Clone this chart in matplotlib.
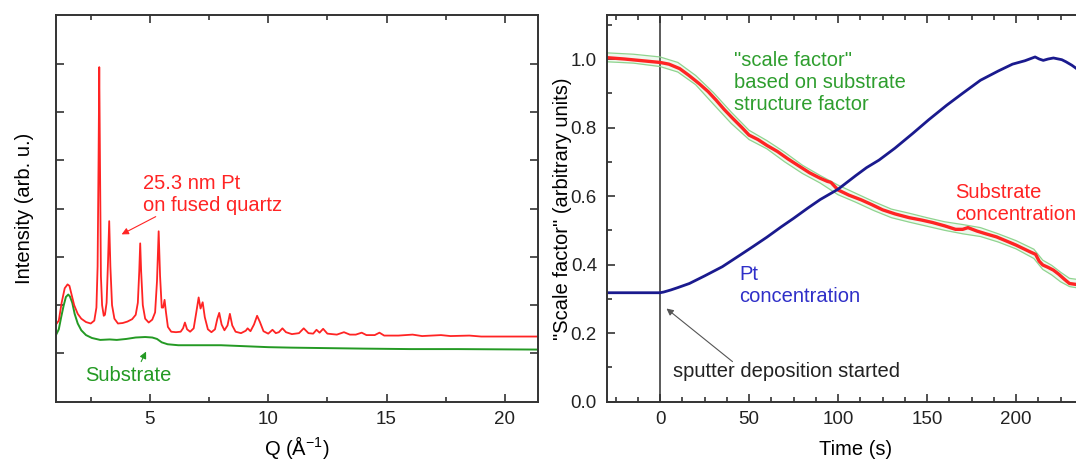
import matplotlib
matplotlib.use("Agg")
import matplotlib.pyplot as plt
from matplotlib.ticker import MultipleLocator, FormatStrFormatter

plt.rcParams['font.family'] = ['Liberation Sans', 'DejaVu Sans']
plt.rcParams['mathtext.fontset'] = 'custom'
plt.rcParams['mathtext.rm'] = 'Liberation Sans'
plt.rcParams['mathtext.default'] = 'regular'

# left panel: diffraction patterns, Q (1/A) and intensity (arb. u.)
film_q = [1.03, 1.15, 1.27, 1.40, 1.52, 1.60, 1.70, 1.80, 1.95, 2.10, 2.30, 2.50, 2.65, 2.74, 2.79,
          2.83, 2.86, 2.89, 2.93, 2.98, 3.05, 3.10, 3.17, 3.23, 3.28, 3.33, 3.40, 3.50, 3.65, 3.85,
          4.05, 4.25, 4.40, 4.49, 4.55, 4.59, 4.63, 4.70, 4.80, 4.95, 5.10, 5.22, 5.30, 5.37, 5.43,
          5.50, 5.56, 5.62, 5.68, 5.76, 5.90, 6.10, 6.30, 6.40, 6.48, 6.57, 6.70, 6.85, 6.96, 7.06,
          7.14, 7.23, 7.32, 7.45, 7.60, 7.75, 7.85, 7.93, 8.03, 8.15, 8.28, 8.38, 8.48, 8.62, 8.85,
          9.05, 9.13, 9.25, 9.40, 9.53, 9.65, 9.80, 10.0, 10.18, 10.32, 10.45, 10.60, 10.75, 11.0,
          11.3, 11.5, 11.7, 11.9, 12.04, 12.17, 12.32, 12.5, 12.9, 13.2, 13.45, 13.7, 13.95, 14.15,
          14.5, 14.7, 14.9, 15.5, 16.1, 16.5, 17.3, 17.7, 18.5, 19.0, 20.0, 21.4]
film_i = [0.60, 0.68, 1.05, 1.35, 1.43, 1.40, 1.20, 1.00, 0.82, 0.72, 0.65, 0.62, 0.68, 0.95, 1.8,
          4.0, 5.93, 4.0, 1.6, 1.0, 0.78, 0.80, 1.05, 1.9, 2.74, 1.8, 1.0, 0.72, 0.62, 0.63,
          0.66, 0.71, 0.80, 1.05, 1.7, 2.28, 1.7, 1.0, 0.72, 0.64, 0.70, 0.85, 1.5, 2.53, 1.6,
          0.95, 0.95, 1.11, 0.85, 0.55, 0.45, 0.44, 0.45, 0.52, 0.64, 0.50, 0.45, 0.52, 0.85, 1.16,
          0.93, 1.06, 0.75, 0.50, 0.44, 0.50, 0.72, 0.84, 0.60, 0.48, 0.58, 0.82, 0.58, 0.45, 0.42,
          0.47, 0.52, 0.46, 0.60, 0.78, 0.65, 0.46, 0.41, 0.49, 0.42, 0.44, 0.52, 0.44, 0.40,
          0.42, 0.52, 0.42, 0.41, 0.49, 0.43, 0.51, 0.41, 0.39, 0.44, 0.39, 0.39, 0.43, 0.38,
          0.38, 0.43, 0.37, 0.37, 0.39, 0.36, 0.38, 0.36, 0.37, 0.35, 0.35, 0.35]

subst_q = [1.03, 1.15, 1.25, 1.35, 1.45, 1.55, 1.62, 1.72, 1.82, 1.95, 2.10, 2.30, 2.55, 2.90,
           3.30, 3.60, 4.00, 4.40, 4.80, 5.10, 5.30, 5.50, 5.75, 6.20, 7.00, 8.00, 9.00, 10.0,
           11.0, 12.5, 14.0, 16.0, 18.0, 21.4]
subst_i = [0.38, 0.50, 0.75, 0.98, 1.17, 1.22, 1.18, 1.05, 0.82, 0.62, 0.48, 0.38, 0.32, 0.28,
           0.29, 0.28, 0.30, 0.33, 0.34, 0.33, 0.30, 0.23, 0.19, 0.17, 0.17, 0.17, 0.15, 0.13,
           0.12, 0.11, 0.10, 0.09, 0.09, 0.08]

# right panel: time (s) and scale factors
sub_t = [-30, -20, -10, 0, 5, 11, 16, 22, 27, 31.5, 36, 41, 46, 50, 55, 60, 66, 72, 78, 84, 90,
         94, 96, 100, 106, 113, 119, 125, 132, 140, 147, 153, 160, 166, 170, 173, 178, 183, 189,
         195, 200, 204, 208, 211, 213, 215, 218, 221, 224, 227, 230, 234, 237]
sub_v = [1.004, 1.0, 0.995, 0.99, 0.985, 0.972, 0.953, 0.928, 0.905, 0.88, 0.853, 0.826, 0.80,
         0.778, 0.765, 0.748, 0.73, 0.708, 0.688, 0.668, 0.652, 0.643, 0.64, 0.618, 0.603, 0.589,
         0.575, 0.56, 0.548, 0.537, 0.53, 0.523, 0.513, 0.503, 0.503, 0.508, 0.498, 0.49, 0.481,
         0.468, 0.457, 0.447, 0.437, 0.43, 0.41, 0.399, 0.392, 0.384, 0.372, 0.358, 0.345, 0.342,
         0.34]

sf_t = [-30, -15, 0, 10, 20, 30, 40, 50, 60, 70, 80, 90, 100, 110, 120, 130, 140, 150, 160, 170,
        180, 190, 200, 210, 215, 220, 225, 230, 237]
sf_hi = [1.018, 1.014, 1.006, 0.99, 0.952, 0.902, 0.845, 0.792, 0.762, 0.728, 0.69, 0.66, 0.632,
         0.608, 0.584, 0.562, 0.55, 0.537, 0.525, 0.517, 0.508, 0.49, 0.47, 0.445, 0.413, 0.398,
         0.378, 0.36, 0.355]
sf_lo = [0.992, 0.988, 0.978, 0.962, 0.925, 0.868, 0.812, 0.765, 0.738, 0.7, 0.666, 0.638, 0.604,
         0.582, 0.558, 0.537, 0.524, 0.512, 0.5, 0.49, 0.482, 0.466, 0.446, 0.418, 0.386, 0.37,
         0.35, 0.336, 0.33]

pt_t = [-30, -15, 0, 2, 6, 10, 16.5, 25, 35, 45, 52, 60, 68, 75, 83, 90, 100, 110, 116, 123, 132,
        142, 151, 161, 170, 180, 190, 198, 205, 210.7, 213, 215.3, 218, 221, 225.7, 228, 231.3,
        234, 237]
pt_v = [0.318, 0.318, 0.318, 0.32, 0.326, 0.333, 0.345, 0.367, 0.394, 0.428, 0.452, 0.48, 0.51,
        0.535, 0.565, 0.59, 0.62, 0.66, 0.683, 0.705, 0.74, 0.783, 0.823, 0.865, 0.9, 0.938,
        0.965, 0.985, 0.995, 1.006, 1.0, 0.996, 1.0, 1.003, 0.998, 0.992, 0.982, 0.972, 0.958]

time_ticks = [0, 50, 100, 150, 200, 250]
time_labels = ['0', '50', '100', '150', '200', '']

RED = '#ff2424'
GREEN = '#249a24'
NAVY = '#1a1a8e'
SPINE = '#333333'

fig = plt.figure(figsize=(10.76, 4.61), dpi=100)
ax1 = fig.add_axes([0.052, 0.1286, 0.448, 0.8378])
ax2 = fig.add_axes([0.5638, 0.1286, 0.4632, 0.8378])

for ax in (ax1, ax2):
    for s in ax.spines.values():
        s.set_color(SPINE)
        s.set_linewidth(1.4)
    ax.tick_params(which='both', direction='in', top=True, right=True, color=SPINE,
                   width=1.2, labelsize=13.5, labelcolor='#222222', pad=7)
    ax.tick_params(which='major', length=6)
    ax.tick_params(which='minor', length=3.5)

# left panel
ax1.plot(subst_q, subst_i, color=GREEN, lw=1.4)
ax1.plot(film_q, film_i, color=RED, lw=1.3)
ax1.set_xlim(1.03, 21.4)
ax1.set_ylim(-1, 7)
ax1.xaxis.set_major_locator(MultipleLocator(5))
ax1.xaxis.set_minor_locator(MultipleLocator(2.5))
ax1.set_yticks(range(0, 7))
ax1.set_yticklabels([])
ax1.set_xlabel('Q (Å$^{-1}$)', fontsize=14.5, labelpad=4)
ax1.set_ylabel('Intensity (arb. u.)', fontsize=14.5, labelpad=9)

ax1.text(4.69, 2.96, '25.3 nm Pt\non fused quartz', color=RED, fontsize=14.5, va='baseline')
ax1.annotate('', xy=(3.7, 2.44), xytext=(5.35, 2.86),
             arrowprops=dict(arrowstyle='-|>', color=RED, lw=0.8, mutation_scale=10))
ax1.text(2.25, -0.57, 'Substrate', color=GREEN, fontsize=14.5, va='baseline')
ax1.annotate('', xy=(4.89, 0.09), xytext=(4.58, -0.22),
             arrowprops=dict(arrowstyle='-|>', color=GREEN, lw=0.8, mutation_scale=10))

# right panel
ax2.axvline(0, color='#4d4d4d', lw=1.3, zorder=1)
ax2.fill_between(sf_t, sf_lo, sf_hi, color='#8fd48f', alpha=0.15, lw=0)
ax2.plot(sf_t, sf_hi, color='#8fd48f', lw=0.9)
ax2.plot(sf_t, sf_lo, color='#8fd48f', lw=0.9)
ax2.plot(sub_t, sub_v, color=RED, lw=2.4)
ax2.plot(pt_t, pt_v, color=NAVY, lw=2.0)
ax2.set_xlim(-30, 250)
ax2.set_ylim(0, 1.127)
ax2.set_xticks(time_ticks)
ax2.set_xticklabels(time_labels)
ax2.xaxis.set_minor_locator(MultipleLocator(12.5))
ax2.yaxis.set_major_locator(MultipleLocator(0.2))
ax2.yaxis.set_minor_locator(MultipleLocator(0.1))
ax2.yaxis.set_major_formatter(FormatStrFormatter('%.1f'))
ax2.set_xlabel('Time (s)', fontsize=14.5, labelpad=8)
ax2.set_ylabel('"Scale factor" (arbitrary units)', fontsize=14.5, labelpad=-1)

ax2.text(41.8, 0.85, '"scale factor"\nbased on substrate\nstructure factor', color='#2e9e2e',
         fontsize=14.5, va='baseline')
ax2.text(165.6, 0.529, 'Substrate\nconcentration', color=RED, fontsize=14.5, va='baseline')
ax2.text(44.6, 0.292, 'Pt\nconcentration', color='#2f2fc8', fontsize=14.5, va='baseline')
ax2.text(7.0, 0.073, 'sputter deposition started', color='#222222', fontsize=14.5, va='baseline')
ax2.annotate('', xy=(2.4, 0.277), xytext=(41.9, 0.112),
             arrowprops=dict(arrowstyle='-|>', color='#555555', lw=0.8, mutation_scale=10))

fig.savefig('out.png', dpi=100)
